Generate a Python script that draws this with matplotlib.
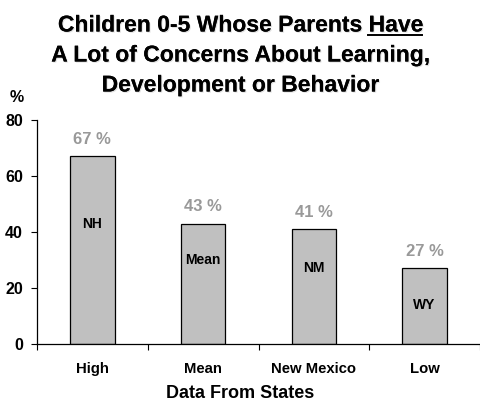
import matplotlib
matplotlib.use("Agg")
import matplotlib.pyplot as plt
import matplotlib.patheffects as pe
import numpy as np

plt.rcParams['font.family'] = ['Liberation Sans', 'DejaVu Sans']
plt.rcParams['font.weight'] = 'bold'

# data
categories = ["High", "Mean", "New Mexico", "Low"]
values = [67, 43, 41, 27]
bar_names = ["NH", "Mean", "NM", "WY"]
title_lines = ["Children 0-5 Whose Parents Have",
               "A Lot of Concerns About Learning,",
               "Development or Behavior"]

fig = plt.figure(figsize=(4.8, 4.0), dpi=100)
ax = fig.add_axes([37 / 480, 56 / 400, 443 / 480, 224 / 400])

x = np.arange(len(categories))
ax.bar(x, values, width=0.4, color="#c0c0c0", edgecolor="black", linewidth=0.9)

# value labels above the bars, names inside
inner_y = [43, 30, 27, 14]
for xi, v, name, iy in zip(x, values, bar_names, inner_y):
    ax.text(xi, v + 6, "%d %%" % v, ha="center", va="center",
            color="#999999", fontsize=12, fontweight="bold")
    ax.text(xi, iy, name, ha="center", va="center", fontsize=10, fontweight="bold")

ax.set_xlim(-0.5, 3.5)
ax.set_ylim(0, 80)
ax.set_yticks([0, 20, 40, 60, 80])
ax.set_xticks(np.arange(-0.5, 4.0, 1.0))
ax.set_xticklabels([])
ax.set_xticks(x, minor=True)
ax.set_xticklabels(categories, minor=True)
ax.tick_params(axis="x", which="minor", length=0, pad=13, labelsize=10.7)
ax.tick_params(axis="x", which="major", length=4, direction="out")
ax.tick_params(axis="y", length=4, direction="out", labelsize=11.5, pad=6)
for lab in ax.get_xticklabels(minor=True) + ax.get_yticklabels():
    lab.set_fontweight("bold")
ax.spines["top"].set_visible(False)
ax.spines["right"].set_visible(False)
ax.spines["left"].set_linewidth(0.9)
ax.spines["bottom"].set_linewidth(0.9)

fig.text(0.5, 1 - 393 / 400, "Data From States", ha="center", va="center",
         fontsize=13, fontweight="bold")
fig.text(17 / 480, 1 - 98 / 400, "%", ha="center", va="center", fontsize=11.5, fontweight="bold")

# title with light shadow, "Have" underlined
title_size = 16.5
title_y = [25, 55, 85]
texts = []
for line, ty in zip(title_lines, title_y):
    t = fig.text(0.5, 1 - ty / 400, line, ha="center", va="center",
                 fontsize=title_size, fontweight="bold")
    t.set_path_effects([pe.withSimplePatchShadow(offset=(0.8, -0.8), shadow_rgbFace="#aaaaaa", alpha=0.35),
                        pe.Normal()])
    texts.append(t)

fig.canvas.draw()
r = fig.canvas.get_renderer()
bb = texts[0].get_window_extent(r)
probe = fig.text(0, 0, "Have", fontsize=title_size, fontweight="bold")
w = probe.get_window_extent(r).width
probe.remove()
uy = bb.y0 + 1.5
fig.add_artist(plt.Line2D([(bb.x1 - w) / 480, bb.x1 / 480], [uy / 400, uy / 400],
                          color="black", linewidth=1.4, transform=fig.transFigure))

fig.savefig("out.png", dpi=100)
